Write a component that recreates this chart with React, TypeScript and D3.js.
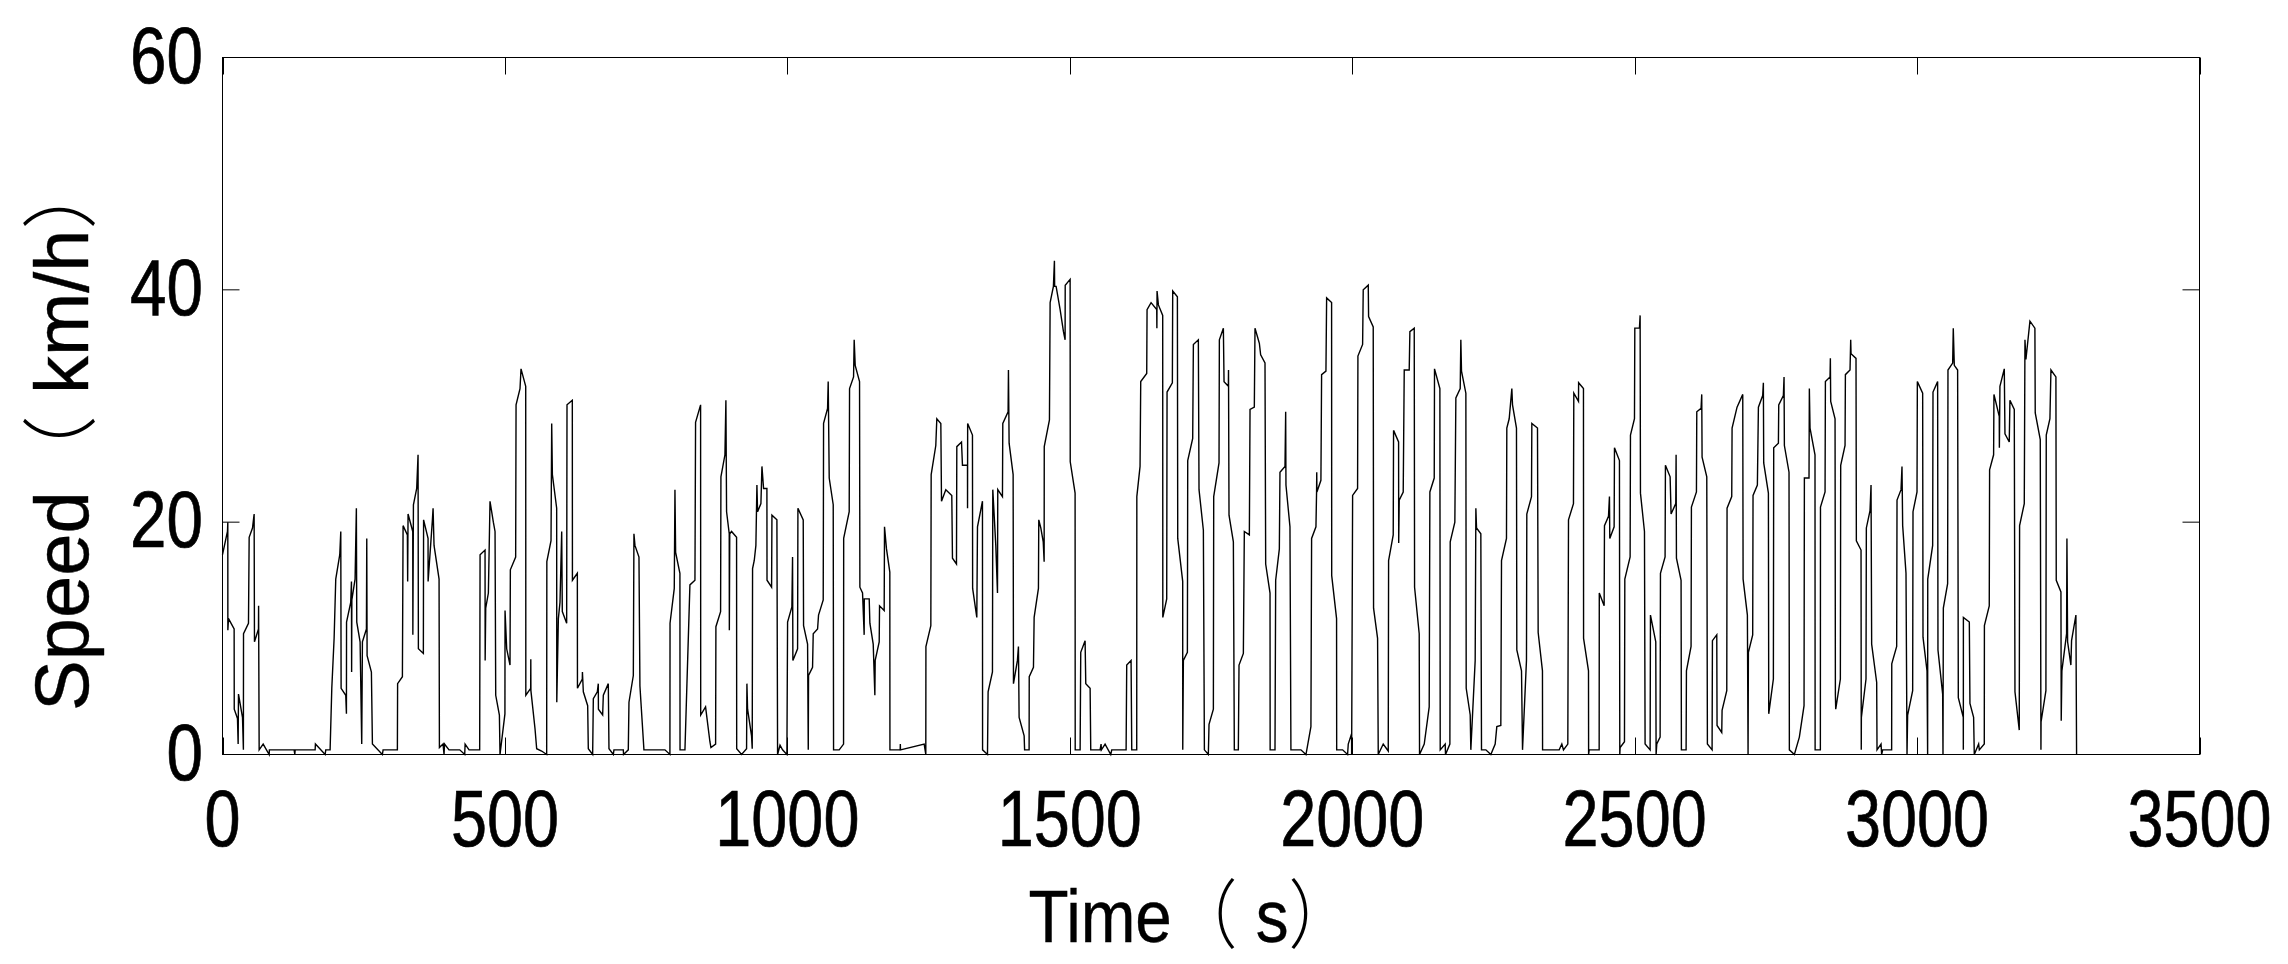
import React from 'react';
import * as d3 from 'd3';

// speed trace, [time s, speed km/h], split by time window
const trace0000 = [
  [0, 17.2], [8.8, 19.2], [9.4, 20], [9.5, 10.7], [10.6, 11.7], [20.6, 10.8], [20.8, 3.9], [26.5, 3.1], [27.7, 0.9],
  [28.3, 5.2], [35.4, 3.2], [37, 0.4], [37.2, 10.4], [46, 11.3], [47.2, 18.7], [53.1, 19.5], [56, 20.7], [56.6, 9.7],
  [63.7, 10.8], [63.9, 12.8], [64.9, 0.4], [72, 0.9], [82.6, 0], [83, 0.4], [126.8, 0.4], [128, 0], [128.6, 0.4],
  [164, 0.4], [164.5, 0.9], [181.7, 0], [182.8, 0.4], [190.5, 0.4], [193.5, 5.7], [197.6, 10], [200.5, 15.1],
  [207.6, 17.2], [209.4, 19.2], [210, 5.7], [218.2, 5.1], [219.4, 3.5], [219.6, 11.4], [227, 13.1], [228.3, 14.9],
  [228.6, 7.1], [229, 13.3], [234.7, 15.1], [237, 21.2], [237.7, 11.4], [243.6, 9.7], [246.5, 0.9], [247.7, 9.7],
  [254.8, 10.8], [255.4, 18.6], [256, 8.5], [263.6, 7.1], [265.4, 0.9], [283, 0], [284.3, 0.4], [309.6, 0.4],
  [310, 6.1], [318.5, 6.7], [319.7, 19.7], [327.3, 18.9], [327.8, 14.9], [328.5, 20.7], [336.8, 19.2], [337, 10.3],
  [338, 21.5], [343.8, 22.9], [346.2, 25.8], [346.8, 9.1], [355.6, 8.7], [356, 20.2], [363.9, 18.6], [364, 14.9],
  [371.6, 20.2], [372.8, 21.2], [374.5, 18], [383.4, 15.1], [384, 0.6], [390.4, 0.9], [392.2, 0], [393, 0.9],
  [401, 0.4], [420, 0.4], [428.8, 0], [429.5, 0.9], [436.5, 0.4], [455.3, 0.4], [456, 17.2], [464.8, 17.6],
  [465, 8.1], [466, 12.6], [470.7, 13.9],
];

const trace0470 = [
  [473.6, 21.8], [479.5, 20], [482.5, 19.2], [483.7, 5.1], [490.2, 3.4], [491.3, 0], [500, 3.5], [500.2, 12.4],
  [503.1, 9.1], [509, 7.7], [509.6, 15.9], [519, 17], [519.7, 30.1], [526.7, 31.5], [528.5, 33.2], [536.8, 31.7],
  [537, 5.1], [545.6, 5.7], [545.8, 8.2], [546, 5.5], [553.3, 2.2], [556.2, 0.5], [565, 0.3], [573.9, 0],
  [574.2, 16.6], [581.6, 18.4], [582.8, 28.5], [584, 24.1], [591.6, 21.2], [591.8, 4.5], [594.6, 11.7],
  [597.5, 13.1], [600.5, 19.2], [601.6, 12.3], [609.3, 11.3], [609.9, 30.1], [619.3, 30.5], [619.5, 15],
  [628.2, 15.6], [628.4, 5.7], [637, 6.5], [637.2, 7.1], [638.8, 5.4], [646.5, 4.2], [647.6, 0.5], [655.3, 0],
  [656.5, 4.8], [663.6, 5.4], [665.3, 6.1], [665.5, 3.9], [673, 3.4], [674.2, 5.1], [683, 6.1], [684.2, 0.5],
  [691.9, 0], [693, 0.4], [709.6, 0.4], [710, 0], [718.4, 0.4], [719.6, 4.5], [727.3, 6.8], [728.4, 19],
  [730.2, 18], [737.3, 17], [739, 5.9], [746.1, 0.4], [783.3, 0.4], [792.1, 0], [792.3, 11.3], [799.8, 14.3],
  [801, 22.8], [802.2, 17.4], [809.8, 15.6], [810, 0.4], [818.7, 0.4], [827.5, 14.6], [836.4, 15], [837.5, 28.6],
  [846.4, 30.1], [846.6, 3.4], [855.2, 4.1], [862.9, 1.1], [864.7, 0.6], [873, 0.9], [873.5, 11], [881.8, 12.3],
  [882.4, 23.9], [889.5, 25.8], [891.2, 30.5], [892.4, 20.9], [897.1, 19], [897.3, 10.7], [898, 19], [901.2, 19.2],
  [910.1, 18.7], [910.3, 0.5], [919, 0], [927.8, 0.5], [928.4, 6.1], [929.6, 3.9], [936.6, 1.6], [937.8, 0.5],
  [938.4, 16], [941.4, 16.7],
];

const trace0941 = [
  [944.3, 18], [946.1, 23.2], [947.3, 20.9], [953.2, 21.6], [955, 24.8], [957.9, 22.9], [963.8, 22.9], [964, 15],
  [972.1, 14.4], [972.7, 20.6], [981.5, 20.2], [982.7, 0], [987, 0.8], [991.5, 0.4], [999.2, 0], [1000.4, 11.4],
  [1008, 12.7], [1009.2, 17], [1009.8, 8.1], [1018.1, 9.1], [1018.7, 21.2], [1028.1, 20.2], [1028.7, 11.1],
  [1035.8, 9.5], [1037, 0.4], [1037.5, 6.8], [1044.6, 7.5], [1045.8, 10.4], [1053.5, 10.8], [1055.2, 12],
  [1063.5, 13.3], [1064.1, 28.5], [1071.2, 29.8], [1072.3, 32.1], [1074.1, 23.8], [1081.2, 21.5], [1081.8, 0.4],
  [1091.8, 0.4], [1099.5, 0.9], [1099.7, 18.6], [1109.5, 20.9], [1110.1, 31.5], [1117.2, 32.5], [1118.3, 35.7],
  [1120.1, 33.5], [1127.8, 32.1], [1128.4, 14.4], [1133.1, 13.9], [1136, 10.3], [1136.2, 13.4], [1144.9, 13.4],
  [1146.1, 11.3], [1152, 9.5], [1154.9, 5.1], [1155.5, 8.1], [1162.6, 9.7], [1163.2, 12.8], [1171.4, 12.4],
  [1172, 19.6], [1175.5, 17.7], [1181.4, 15.7], [1181.6, 0.4], [1199.7, 0.4], [1200, 0.9], [1200.3, 0.4],
  [1242.2, 0.9], [1245.1, 0], [1245.3, 9.3], [1254, 11.1], [1254.6, 24.1], [1262.8, 26.6], [1264.6, 28.9],
  [1271.7, 28.5], [1272.9, 21.8], [1280.5, 22.8], [1291.1, 22.3], [1292.3, 16.9], [1299.4, 16.4], [1300, 26.5],
  [1308.3, 26.9], [1310, 24.9], [1318.9, 24.9], [1319, 21.2], [1319.2, 28.5], [1327.7, 27.5], [1328, 14.3],
  [1335.4, 11.8], [1336.6, 19.6], [1345.4, 21.8], [1345.6, 0.4], [1354.3, 0], [1355.4, 5.4], [1363.1, 7.1],
  [1363.7, 22.8], [1369, 18], [1372, 13.9], [1372.5, 22.8], [1380.8, 22.2], [1381.4, 28.5], [1390.8, 29.5],
  [1391.4, 33.1], [1392.6, 26.8], [1399.7, 24.1], [1400.3, 6.1], [1407.3, 8.1], [1409.1, 9.3], [1410.3, 3.2],
];

const trace1412 = [
  [1419.2, 1.6], [1420, 0.4], [1428, 0.4], [1428.2, 6.7], [1435.7, 7.5], [1436.9, 11.8], [1444.5, 14.3],
  [1445.1, 20.2], [1448.7, 19.5], [1453, 18.3], [1454.6, 16.6], [1454.8, 26.5], [1464, 28.8], [1465.2, 38.9],
  [1471, 40.3], [1472.8, 42.5], [1473.2, 40.3], [1475.8, 40.3], [1482.9, 38.3], [1488.8, 36.4], [1491.7, 35.7],
  [1491.9, 40.4], [1500.6, 40.9], [1500.8, 25.2], [1509.4, 22.5], [1509.6, 0.4], [1518.3, 0.4], [1519.4, 8.8],
  [1527.1, 9.8], [1528.3, 6.1], [1536, 5.7], [1537.1, 0.4], [1553.6, 0.4], [1555.4, 0.9], [1556, 0.4],
  [1562.5, 0.9], [1572.5, 0], [1574.3, 0.4], [1599.7, 0.4], [1600.8, 7.7], [1608.5, 8.1], [1609.7, 0.4],
  [1618.5, 0.4], [1618.7, 22.2], [1624.4, 24.8], [1625.6, 32.1], [1636.2, 32.8], [1636.8, 38.3], [1643.9, 38.9],
  [1653.9, 38.3], [1654.2, 36.7], [1654.5, 39.9], [1656.9, 38.7], [1664.5, 37.8], [1664.7, 11.8], [1671.6, 13.4],
  [1672.2, 31.2], [1681.6, 32], [1682.2, 39.9], [1690.5, 39.4], [1691.1, 18.6], [1699.9, 14.9], [1700, 0.4],
  [1701.1, 8.1], [1708.2, 8.8], [1708.8, 25.3], [1717.6, 27.2], [1718.8, 35.3], [1727.6, 35.7], [1728.8, 22.8],
  [1736.5, 19.3], [1738.3, 0.4], [1745.3, 0], [1746.5, 2.6], [1754.2, 3.9], [1754.8, 22.2], [1764.2, 25.1],
  [1764.8, 35.7], [1771.9, 36.7], [1773.1, 32.1], [1780.7, 31.7], [1781, 33.1], [1781.9, 20.6], [1789.6, 18.3],
  [1791.3, 0.4], [1798.4, 0.4], [1799.6, 7.7], [1807.3, 8.7], [1809, 19.2], [1817.9, 18.9], [1819.1, 29.7],
  [1826.7, 29.9], [1827.9, 36.7], [1832, 36], [1835.6, 35.4], [1837.9, 34.4], [1845.6, 33.7], [1846.8, 16.4],
  [1854.5, 13.9], [1854.7, 0.4], [1863.3, 0.4], [1864.5, 15], [1871, 17.7], [1872.1, 24.3], [1881, 24.8],
  [1882.2, 29.5],
];

const trace1883 = [
  [1882.7, 23.2], [1889.8, 19.6], [1891.5, 0.4], [1909.2, 0.4], [1918.1, 0], [1926.9, 2.4], [1928.1, 18.6],
  [1935.8, 19.6], [1936.9, 22.6], [1937.2, 24.3], [1937.5, 22.6], [1944.6, 23.6], [1945.8, 32.7], [1953.5, 33],
  [1954.7, 39.3], [1963.5, 38.9], [1963.7, 15.4], [1972.3, 11.7], [1972.5, 0.4], [1983, 0.4], [1991.8, 0],
  [1993, 0.9], [1998.9, 1.8], [1999, 0], [2000.7, 22.3], [2009.5, 22.9], [2010.1, 34.3], [2018.4, 35.3],
  [2019.5, 40], [2028.4, 40.4], [2029, 37.7], [2037.2, 36.8], [2037.8, 12.6], [2044.9, 10], [2046.1, 0],
  [2054.9, 0.9], [2063.8, 0.3], [2064.4, 16.7], [2072.6, 18.9], [2073.2, 27.9], [2082.1, 26.9], [2082.3, 18.2],
  [2083.2, 21.9], [2090.3, 22.6], [2092.1, 33.1], [2100.9, 33.1], [2102.1, 36.4], [2109.8, 36.7], [2110.4, 14.4],
  [2118.6, 10.4], [2119.2, 0], [2127.5, 0.9], [2136.3, 4.1], [2137.5, 22.6], [2145.2, 23.8], [2145.7, 33.2],
  [2155.2, 31.5], [2155.8, 0.4], [2164.6, 0.9], [2165.2, 0], [2172.9, 0.9], [2173.5, 18.3], [2181.7, 20],
  [2183.5, 30.7], [2191.2, 31.5], [2192.3, 35.7], [2193.5, 33], [2201.2, 31.1], [2201.8, 5.7], [2208.9, 3.4],
  [2210, 0.4], [2217.7, 8.1], [2218.9, 21.2], [2220.1, 19.5], [2227.7, 19], [2228.9, 0.4], [2236.6, 0.4],
  [2245.4, 0], [2253.1, 0.9], [2256, 2.4], [2263.1, 2.5], [2264.3, 16.7], [2273.1, 18.6], [2273.7, 28.1],
  [2277.9, 28.9], [2282.6, 31.5], [2283.8, 30.1], [2290.8, 28.1], [2291.4, 9], [2299.7, 7.2], [2301.5, 0.4],
  [2308.5, 8.1], [2309.1, 20.7], [2317.4, 22.2], [2318, 28.5], [2328, 28.1], [2329.2, 10.5], [2336.8, 7.2],
  [2337, 0.4], [2353.4, 0.4],
];

const trace2353 = [
  [2366.4, 0.4], [2371.1, 0.9], [2374, 0.4], [2381.7, 0.9], [2382.9, 20.2], [2391.7, 21.6], [2392.3, 31.1],
  [2400.6, 30.4], [2400.8, 32], [2409.4, 31.5], [2409.6, 10], [2418.3, 7.2], [2418.5, 0], [2419.5, 0.4],
  [2437.2, 0.4], [2437.4, 13.9], [2446, 12.8], [2446.6, 19.7], [2453.7, 20.5], [2455.4, 22.2], [2456, 18.6],
  [2463.7, 19.6], [2464.3, 26.4], [2473.1, 25.3], [2473.7, 0], [2474.3, 0.6], [2482, 1.1], [2482.6, 15.1],
  [2492, 17], [2492.6, 27.5], [2499.7, 28.9], [2500.3, 36.7], [2508.5, 36.7], [2509.7, 37.8], [2510.3, 22.5],
  [2517.4, 19.2], [2518.5, 0.9], [2527.4, 0.4], [2528, 12], [2537.4, 9.7], [2538, 0], [2539.2, 0.9],
  [2545.1, 1.5], [2545.7, 15.6], [2553.9, 17], [2554.5, 24.9], [2562.8, 23.9], [2564.5, 20.7], [2572.8, 21.6],
  [2573.4, 25.8], [2574, 16.9], [2582.2, 15], [2582.8, 0.4], [2591.1, 0.4], [2591.7, 7.2], [2599.9, 9.3],
  [2600.5, 21.3], [2609.4, 22.6], [2610, 29.5], [2617.6, 29.8], [2618.8, 31], [2619.4, 25.6], [2627.7, 23.9],
  [2628.8, 0.9], [2637.1, 0.4], [2637.7, 9.8], [2645.4, 10.3], [2645.9, 2.5], [2654.2, 1.9], [2654.8, 3.8],
  [2663.1, 5.5], [2663.6, 21.2], [2671.9, 22.2], [2672.5, 28.1], [2681.3, 29.9], [2691.4, 31], [2692, 15.1],
  [2699.6, 12], [2700.8, 0], [2701.4, 8.8], [2709, 10.3], [2709.6, 22.3], [2717.3, 23.2], [2719.1, 29.9],
  [2726.7, 30.9], [2727.9, 32], [2728.5, 25.1], [2736.8, 22.5], [2737.4, 3.5], [2745.6, 6.5], [2746.2, 26.4],
  [2754.5, 26.8], [2755.1, 30.1], [2763.3, 30.9], [2764.5, 32.5], [2765.1, 26.6], [2773.3, 24.3], [2773.9, 0.4],
  [2782.8, 0], [2791.6, 1.5], [2799.9, 4.2], [2800.5, 23.8], [2808.7, 23.8], [2809.3, 31.5], [2810.5, 28.1],
  [2819.3, 25.8], [2819.5, 0.4], [2824, 0.4],
];

const trace2824 = [
  [2828.8, 0.4], [2829, 21.3], [2837.1, 22.6], [2837.7, 32.1], [2845.9, 32.5], [2846.5, 34.1], [2847.1, 30.4],
  [2854.8, 28.9], [2855.4, 5.1], [2856, 3.9], [2864.2, 6.5], [2864.8, 24.9], [2872.5, 26.6], [2873.1, 32.7],
  [2881.3, 33.1], [2882.5, 35.7], [2883.1, 34.5], [2891.9, 34.1], [2892.5, 18.4], [2900.8, 17.6], [2901.2, 0.4],
  [2901.4, 3.2], [2909.6, 6.5], [2910.2, 19.5], [2916.7, 21], [2918.5, 23.2], [2919.6, 9.5], [2928.5, 6.2],
  [2929.1, 0.4], [2936.2, 0.9], [2937.3, 0], [2939.1, 0.4], [2955, 0.4], [2955.2, 7.8], [2963.9, 9.3],
  [2964.5, 21.9], [2971.6, 22.8], [2973.3, 24.8], [2974.5, 19.7], [2980.4, 15.6], [2982.2, 0], [2983.3, 3.4],
  [2992.2, 5.5], [2992.8, 20.9], [2999.9, 22.6], [3000.5, 32.1], [3009.9, 31.1], [3010.5, 10.1], [3017.6, 7.2],
  [3018.7, 0], [3018.9, 15.1], [3027.6, 18], [3028.2, 31.2], [3036.4, 32.1], [3037, 9], [3045.3, 5.2],
  [3045.9, 0], [3046.5, 12.6], [3054.1, 14.7], [3054.7, 33.1], [3063, 33.7], [3064.1, 36.7], [3065.9, 33.5],
  [3071.8, 33.1], [3073, 4.9], [3081.8, 3.2], [3081.9, 0.4], [3082, 11.8], [3092.5, 11.4], [3093.6, 4.4],
  [3100.1, 3.2], [3101.3, 0], [3109, 0.9], [3110.2, 0.4], [3119, 0.9], [3119.2, 11.1], [3127.8, 12.8],
  [3128.4, 24.5], [3135.5, 25.8], [3136.1, 31], [3145.5, 29.1], [3145.7, 26.4], [3146.7, 31.7], [3154.4, 33.2],
  [3155.6, 27.6], [3163.2, 26.9], [3164.4, 30.5], [3172.1, 29.7], [3173.3, 5.4], [3180.9, 2.1], [3181.5, 19.7],
  [3189.8, 21.6], [3191, 35.7], [3192.7, 34], [3199.8, 37.3], [3208.6, 36.7], [3209.2, 29.4], [3218.1, 27.1],
  [3219.3, 0.4], [3219.5, 2.8], [3228.1, 5.5], [3228.7, 27.5], [3235.2, 28.9], [3237, 33.1], [3245.8, 32.5],
  [3246.4, 15], [3254.7, 14], [3255.2, 2.9], [3256.4, 7.2], [3264.7, 10.4], [3265.3, 18.6], [3266.5, 9.7],
  [3272.3, 7.7], [3273.5, 9.8], [3281.2, 12], [3282.4, 0],
];

const xTicks = [0, 500, 1000, 1500, 2000, 2500, 3000, 3500];
const yTicks = [0, 20, 40, 60];
const xTitle = ['Time', '（', ' s', '）'];
const yTitle = ['Speed', '（', ' km/h', '）'];

const W = 2288;
const H = 964;
const plot = { left: 222.5, right: 2199.5, top: 57.5, bottom: 754.5 };
const TICK = 17;
const labelFont = 'Liberation Sans, Arial, Helvetica, sans-serif';
const cjkFont = 'Noto Sans CJK SC, Noto Sans CJK JP, sans-serif';

const App = () => {
  const x = d3.scaleLinear().domain([0, 3500]).range([plot.left, plot.right]);
  const y = d3.scaleLinear().domain([0, 60]).range([plot.bottom, plot.top]);

  const data = [...trace0000, ...trace0470, ...trace0941, ...trace1412, ...trace1883, ...trace2353, ...trace2824];
  const line = d3.line<number[]>()
    .x(d => x(d[0]))
    .y(d => y(d[1]));

  return (
    <svg width={W} height={H} style={{ display: 'block', background: '#fff' }}>
      <style>{'body{margin:0}'}</style>
      <rect x={0} y={0} width={W} height={H} fill="#fff" />

      <path d={line(data) || ''} fill="none" stroke="#000" strokeWidth={1.4} strokeLinejoin="miter" />

      {/* axes box */}
      <rect x={plot.left} y={plot.top} width={plot.right - plot.left} height={plot.bottom - plot.top}
        fill="none" stroke="#000" strokeWidth={1} />

      {xTicks.map(t => (
        <g key={'x' + t}>
          <line x1={Math.round(x(t)) + 0.5} x2={Math.round(x(t)) + 0.5} y1={plot.bottom} y2={plot.bottom - TICK} stroke="#000" />
          <line x1={Math.round(x(t)) + 0.5} x2={Math.round(x(t)) + 0.5} y1={plot.top} y2={plot.top + TICK} stroke="#000" />
          <text transform={`translate(${x(t)},${plot.bottom + 91}) scale(0.82,1)`} textAnchor="middle"
            fontFamily={labelFont} fontSize={79} fill="#000" stroke="#000" strokeWidth={0.7}>{t}</text>
        </g>
      ))}

      {yTicks.map(v => (
        <g key={'y' + v}>
          <line x1={plot.left} x2={plot.left + TICK} y1={y(v)} y2={y(v)} stroke="#000" />
          <line x1={plot.right} x2={plot.right - TICK} y1={y(v)} y2={y(v)} stroke="#000" />
          <text transform={`translate(203,${y(v) + 25}) scale(0.83,1)`} textAnchor="end"
            fontFamily={labelFont} fontSize={79} fill="#000" stroke="#000" strokeWidth={0.7}>{v}</text>
        </g>
      ))}

      <text transform="translate(1028.5,942) scale(0.875,1)" fontFamily={labelFont} fontSize={75} fill="#000"
        stroke="#000" strokeWidth={0.4}>
        <tspan>{xTitle[0]}</tspan>
        <tspan fontFamily={cjkFont} fontWeight={300} strokeWidth={0}>{xTitle[1]}</tspan>
        <tspan xmlSpace="preserve">{xTitle[2]}</tspan>
        <tspan fontFamily={cjkFont} fontWeight={300} strokeWidth={0}>{xTitle[3]}</tspan>
      </text>

      <text transform="translate(88,711) rotate(-90)" fontFamily={labelFont} fontSize={76} fill="#000"
        stroke="#000" strokeWidth={0.4}>
        <tspan>{yTitle[0]}</tspan>
        <tspan fontFamily={cjkFont} fontWeight={300} strokeWidth={0}>{yTitle[1]}</tspan>
        <tspan xmlSpace="preserve">{yTitle[2]}</tspan>
        <tspan fontFamily={cjkFont} fontWeight={300} strokeWidth={0}>{yTitle[3]}</tspan>
      </text>
    </svg>
  );
};

export default App;
